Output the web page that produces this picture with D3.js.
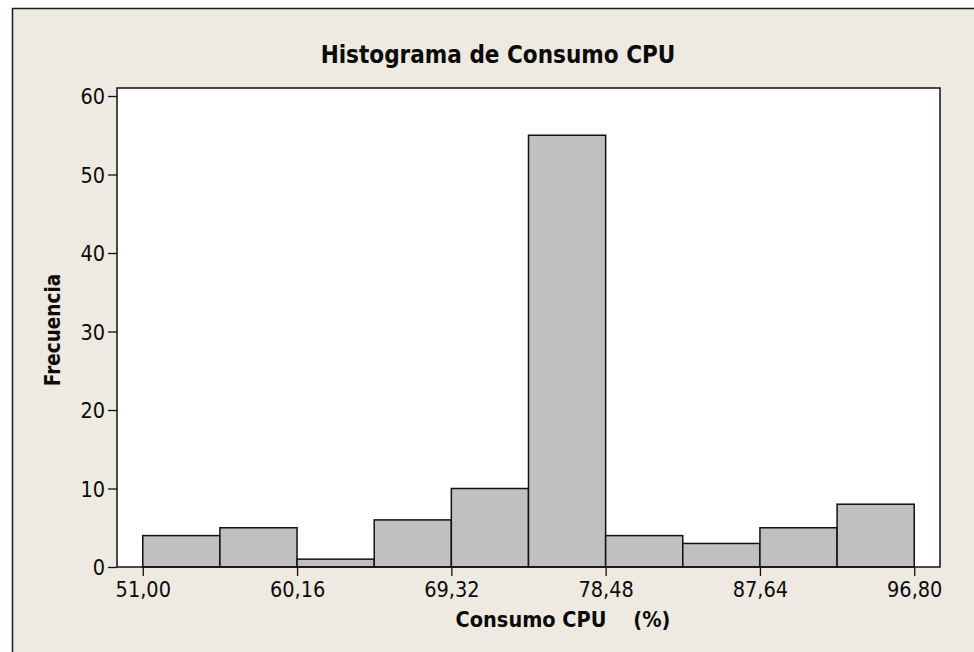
<!DOCTYPE html>
<html>
<head>
<meta charset="utf-8">
<script src="https://cdn.jsdelivr.net/npm/d3@7"></script>
<style>
  html, body { margin: 0; padding: 0; background: #fff; }
  svg text { font-family: "DejaVu Sans Condensed", "DejaVu Sans", sans-serif; font-stretch: condensed; fill: #0a0a0a; }
</style>
</head>
<body>
<svg width="974" height="652"></svg>
<script>
// data
var binEdges = [51.00, 55.58, 60.16, 64.74, 69.32, 73.90, 78.48, 83.06, 87.64, 92.22, 96.80];
var counts = [4, 5, 1, 6, 10, 55, 4, 3, 5, 8];
var xTickValues = [51.00, 60.16, 69.32, 78.48, 87.64, 96.80];
var xTickLabels = ["51,00", "60,16", "69,32", "78,48", "87,64", "96,80"];
var yTickValues = [0, 10, 20, 30, 40, 50, 60];

var bins = counts.map(function(c, i) {
  return { x0: binEdges[i], x1: binEdges[i + 1], count: c };
});

// presets
var svg = d3.select("svg");
var margin = { top: 88, right: 34, bottom: 85, left: 117 },
  width = +svg.attr("width") - margin.left - margin.right,
  height = +svg.attr("height") - margin.top - margin.bottom;

// outer frame
svg.append("rect")
  .attr("x", 12.5).attr("y", 8.5)
  .attr("width", 1000).attr("height", 700)
  .attr("fill", "#eeeae1")
  .attr("stroke", "#1a1a1a")
  .attr("stroke-width", 1.5);

var x = d3.scaleLinear().domain([49.47, 98.33]).range([0, width]);
var y = d3.scaleLinear().domain([0, 61.02]).range([height, 0]);

var g = svg.append("g")
  .attr("transform", "translate(" + margin.left + "," + margin.top + ")");

g.append("rect")
  .attr("width", width).attr("height", height)
  .attr("fill", "#fff");

g.selectAll(".bar")
  .data(bins)
  .enter().append("rect")
  .attr("class", "bar")
  .attr("x", function(d) { return x(d.x0); })
  .attr("y", function(d) { return y(d.count); })
  .attr("width", function(d) { return x(d.x1) - x(d.x0); })
  .attr("height", function(d) { return y(0) - y(d.count); })
  .attr("fill", "#c0c0c0")
  .attr("stroke", "#111")
  .attr("stroke-width", 1.5);

g.append("rect")
  .attr("width", width).attr("height", height)
  .attr("fill", "none")
  .attr("stroke", "#111")
  .attr("stroke-width", 1.5);

// axes
var xAxis = g.append("g")
  .attr("transform", "translate(0," + height + ")")
  .call(d3.axisBottom(x)
    .tickValues(xTickValues)
    .tickFormat(function(d, i) { return xTickLabels[i]; })
    .tickSize(9)
    .tickPadding(6));

var yAxis = g.append("g")
  .call(d3.axisLeft(y)
    .tickValues(yTickValues)
    .tickSize(9)
    .tickPadding(3));

[xAxis, yAxis].forEach(function(a) {
  a.select(".domain").remove();
  a.selectAll("line").attr("stroke", "#111").attr("stroke-width", 1.3);
  a.selectAll("text")
    .attr("font-family", null)
    .style("font-size", "21.5px")
    .attr("fill", "#0a0a0a");
});
yAxis.selectAll("text").attr("dy", "0.36em");
xAxis.selectAll("text").attr("dy", "0.72em");

// titles
svg.append("text")
  .attr("x", 498).attr("y", 63)
  .attr("text-anchor", "middle")
  .style("font-size", "24px")
  .style("font-weight", "bold")
  .text("Histograma de Consumo CPU");

svg.append("text")
  .attr("x", 563).attr("y", 627)
  .attr("text-anchor", "middle")
  .style("font-size", "21.5px")
  .style("font-weight", "bold")
  .style("white-space", "pre")
  .text("Consumo CPU    (%)");

svg.append("text")
  .attr("transform", "translate(60,330) rotate(-90)")
  .attr("text-anchor", "middle")
  .style("font-size", "20.5px")
  .style("font-weight", "bold")
  .text("Frecuencia");
</script>
</body>
</html>
